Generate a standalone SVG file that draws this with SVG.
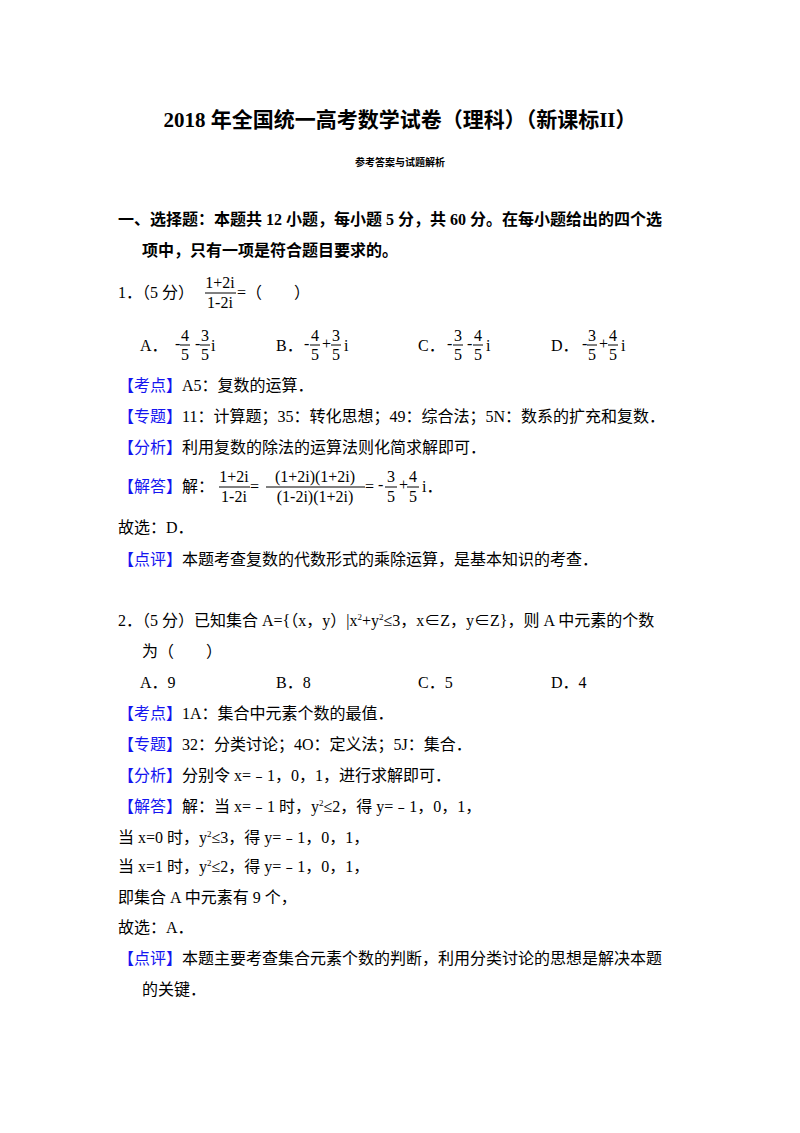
<svg xmlns="http://www.w3.org/2000/svg" width="800" height="1133" viewBox="0 0 800 1133">
<style>
text{font-family:"Liberation Serif","Noto Sans CJK SC",serif;font-size:16px;fill:#000}
.b{font-weight:bold}
.k{fill:#1515f0}
.f{font-size:13px}
.fl{stroke:#000;stroke-width:1}
</style>
<rect width="800" height="1133" fill="#fff"/>
<text x="400" y="127" text-anchor="middle" class="b" style="font-size:21px">2018 年全国统一高考数学试卷（理科）（新课标II）</text>
<text x="400" y="166" text-anchor="middle" class="b" style="font-size:10px">参考答案与试题解析</text>
<text x="118" y="225" class="b">一、选择题：本题共 12 小题，每小题 5 分，共 60 分。在每小题给出的四个选</text>
<text x="142" y="256" class="b">项中，只有一项是符合题目要求的。</text>
<text x="118" y="298">1．（5 分）</text>
<g class="f"><text x="220" y="288" text-anchor="middle">1+2i</text><line class="fl" x1="205" y1="293" x2="236" y2="293"/><text x="220" y="308" text-anchor="middle">1-2i</text></g>
<text x="237" y="298">=（　　）</text>
<text x="140" y="351">A．</text>
<g class="f"><text x="175" y="349">-</text><text x="185" y="341" text-anchor="middle">4</text><line class="fl" x1="180" y1="345" x2="190" y2="345"/><text x="185" y="360" text-anchor="middle">5</text>
<text x="195" y="349">-</text><text x="205" y="341" text-anchor="middle">3</text><line class="fl" x1="200" y1="345" x2="210" y2="345"/><text x="205" y="360" text-anchor="middle">5</text><text x="211" y="351">i</text></g>
<text x="276" y="351">B．</text>
<g class="f"><text x="304" y="349">-</text><text x="315" y="341" text-anchor="middle">4</text><line class="fl" x1="310" y1="345" x2="320" y2="345"/><text x="315" y="360" text-anchor="middle">5</text>
<text x="322" y="349">+</text><text x="336" y="341" text-anchor="middle">3</text><line class="fl" x1="331" y1="345" x2="341" y2="345"/><text x="336" y="360" text-anchor="middle">5</text><text x="344" y="351">i</text></g>
<text x="418" y="351">C．</text>
<g class="f"><text x="447" y="349">-</text><text x="458" y="341" text-anchor="middle">3</text><line class="fl" x1="453" y1="345" x2="463" y2="345"/><text x="458" y="360" text-anchor="middle">5</text>
<text x="467" y="349">-</text><text x="478" y="341" text-anchor="middle">4</text><line class="fl" x1="473" y1="345" x2="483" y2="345"/><text x="478" y="360" text-anchor="middle">5</text><text x="486" y="351">i</text></g>
<text x="551" y="351">D．</text>
<g class="f"><text x="582" y="349">-</text><text x="592" y="341" text-anchor="middle">3</text><line class="fl" x1="587" y1="345" x2="597" y2="345"/><text x="592" y="360" text-anchor="middle">5</text>
<text x="599" y="349">+</text><text x="613" y="341" text-anchor="middle">4</text><line class="fl" x1="608" y1="345" x2="618" y2="345"/><text x="613" y="360" text-anchor="middle">5</text><text x="621" y="351">i</text></g>
<text x="118" y="391"><tspan class="k">【考点】</tspan>A5：复数的运算．</text>
<text x="118" y="422"><tspan class="k">【专题】</tspan>11：计算题；35：转化思想；49：综合法；5N：数系的扩充和复数．</text>
<text x="118" y="453"><tspan class="k">【分析】</tspan>利用复数的除法的运算法则化简求解即可．</text>
<text x="118" y="492"><tspan class="k">【解答】</tspan>解：</text>
<g class="f"><text x="234" y="482" text-anchor="middle">1+2i</text><line class="fl" x1="219" y1="487" x2="250" y2="487"/><text x="234" y="502" text-anchor="middle">1-2i</text>
<text x="250" y="492">=</text>
<text x="315" y="482" text-anchor="middle">(1+2i)(1+2i)</text><line class="fl" x1="266" y1="487" x2="365" y2="487"/><text x="315" y="502" text-anchor="middle">(1-2i)(1+2i)</text>
<text x="365" y="492">=</text><text x="378" y="490">-</text><text x="391" y="482" text-anchor="middle">3</text><line class="fl" x1="385" y1="487" x2="397" y2="487"/><text x="391" y="502" text-anchor="middle">5</text>
<text x="399" y="490">+</text><text x="413" y="482" text-anchor="middle">4</text><line class="fl" x1="407" y1="487" x2="419" y2="487"/><text x="413" y="502" text-anchor="middle">5</text><text x="422" y="492">i．</text></g>
<text x="118" y="533">故选：D．</text>
<text x="118" y="565"><tspan class="k">【点评】</tspan>本题考查复数的代数形式的乘除运算，是基本知识的考查．</text>
<text x="118" y="626">2．（5 分）已知集合 A={（x，y）|x<tspan style="font-size:9px" dy="-6">2</tspan><tspan dy="6">+y</tspan><tspan style="font-size:9px" dy="-6">2</tspan><tspan dy="6">≤3，x∈Z，y∈Z}，则 A 中元素的个数</tspan></text>
<text x="142" y="657">为（　　）</text>
<text x="140" y="688">A．9</text><text x="276" y="688">B．8</text><text x="418" y="688">C．5</text><text x="551" y="688">D．4</text>
<text x="118" y="719"><tspan class="k">【考点】</tspan>1A：集合中元素个数的最值．</text>
<text x="118" y="750"><tspan class="k">【专题】</tspan>32：分类讨论；4O：定义法；5J：集合．</text>
<text x="118" y="781"><tspan class="k">【分析】</tspan>分别令 x=﹣1，0，1，进行求解即可．</text>
<text x="118" y="812"><tspan class="k">【解答】</tspan>解：当 x=﹣1 时，y<tspan style="font-size:9px" dy="-6">2</tspan><tspan dy="6">≤2，得 y=﹣1，0，1，</tspan></text>
<text x="118" y="843">当 x=0 时，y<tspan style="font-size:9px" dy="-6">2</tspan><tspan dy="6">≤3，得 y=﹣1，0，1，</tspan></text>
<text x="118" y="872">当 x=1 时，y<tspan style="font-size:9px" dy="-6">2</tspan><tspan dy="6">≤2，得 y=﹣1，0，1，</tspan></text>
<text x="118" y="903">即集合 A 中元素有 9 个，</text>
<text x="118" y="933">故选：A．</text>
<text x="118" y="964"><tspan class="k">【点评】</tspan>本题主要考查集合元素个数的判断，利用分类讨论的思想是解决本题</text>
<text x="142" y="995">的关键．</text>
</svg>
